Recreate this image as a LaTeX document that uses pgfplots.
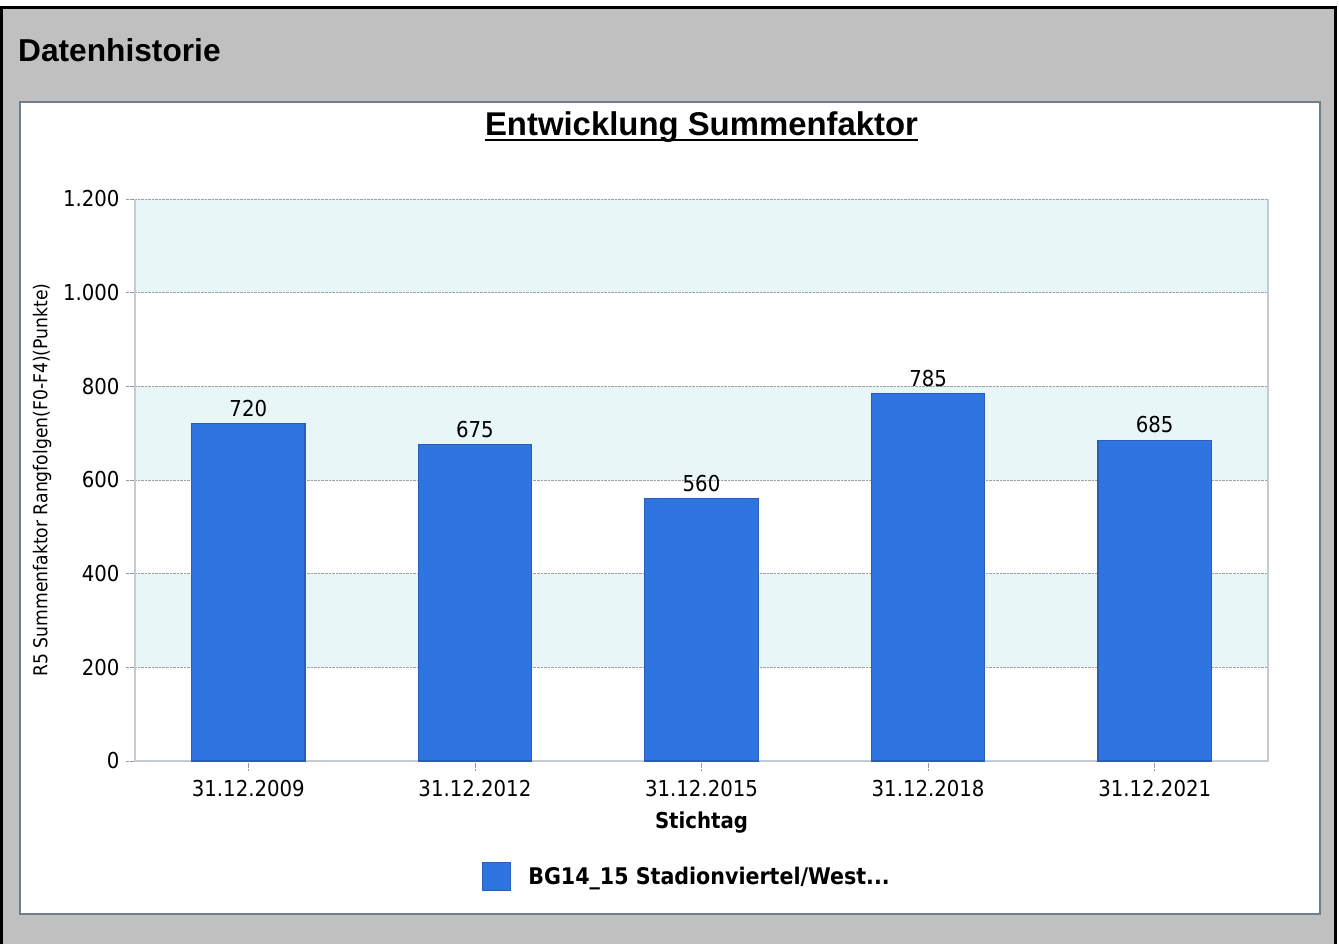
\documentclass[border=0pt]{standalone}
\usepackage{pgfplots}
\pgfplotsset{compat=1.18}
\usepackage{fontspec}
\setmainfont{DejaVu Sans Condensed}
\newfontfamily\arialf{Liberation Sans}
\definecolor{bggray}{RGB}{192,192,192}
\definecolor{panelborder}{RGB}{110,126,140}
\definecolor{band}{RGB}{232,246,248}
\definecolor{barblue}{RGB}{46,117,226}
\definecolor{barborder}{RGB}{42,93,184}
\definecolor{axisgray}{RGB}{197,203,210}
\definecolor{gridgray}{RGB}{150,150,150}
\begin{document}
\begin{tikzpicture}[x=1bp,y=1bp]
\useasboundingbox (0,0) rectangle (1339,944);
\fill[white] (0,0) rectangle (1339,944);
\fill[bggray] (0,0) rectangle (1337,936);
\draw[black,line width=3bp] (1.5,0) -- (1.5,936) -- (1335.5,936) -- (1335.5,0);
\node[anchor=base west,inner sep=0pt,font=\arialf\bfseries\fontsize{31.8}{36}\selectfont] at (18,882) {Datenhistorie};
\fill[white,draw=panelborder,line width=2bp] (20,30) rectangle (1320,842);
\node[anchor=base,inner sep=0pt,font=\arialf\bfseries\fontsize{33}{38}\selectfont] (t) at (701.5,808) {Entwicklung Summenfaktor};
\draw[line width=2.6bp] ([yshift=-4bp]t.base west) -- ([yshift=-4bp]t.base east);
% background bands (0..1200 mapped to 183..745)
\fill[band] (135,651.33) rectangle (1268,745);
\fill[band] (135,464) rectangle (1268,557.67);
\fill[band] (135,276.67) rectangle (1268,370.33);
\begin{axis}[
  at={(135bp,183bp)}, anchor=south west,
  width=1133bp, height=562bp, scale only axis,
  xmin=-0.5, xmax=4.5, ymin=0, ymax=1200,
  xtick=data,
  xticklabels={31.12.2009,31.12.2012,31.12.2015,31.12.2018,31.12.2021},
  ytick={0,200,400,600,800,1000,1200},
  yticklabels={0,200,400,600,800,{1.000},{1.200}},
  xtick pos=bottom, ytick pos=left,
  tick align=outside,
  major tick length=9bp,
  tick style={densely dotted, gridgray, line width=0.8bp},
  ymajorgrids,
  grid style={densely dotted, gridgray!90, line width=0.8bp},
  axis line style={draw=none},
  ticklabel style={font=\fontsize{22}{25}\selectfont, text=black},
  yticklabel style={xshift=-3bp},
  xticklabel style={yshift=-7bp},
  /pgf/number format/assume math mode=true,
  ylabel={R5 Summenfaktor Rangfolgen(F0-F4)(Punkte)},
  xlabel={Stichtag},
  every axis y label/.style={at={(-93bp,281bp)}, rotate=90, anchor=center, font=\fontsize{19.2}{21}\selectfont},
  every axis x label/.style={at={(566.5bp,-62bp)}, anchor=center, font=\bfseries\fontsize{22}{25}\selectfont},
  ybar, bar width=0.5,
  nodes near coords,
  every node near coord/.append style={font=\fontsize{22}{25}\selectfont, text=black, yshift=3bp},
  legend style={at={(0.487,-0.205)}, anchor=center, draw=none, fill=none,
    font=\bfseries\fontsize{23}{26}\selectfont, legend cell align=left},
  legend image code/.code={\fill[barblue, draw=barborder, line width=1bp] (0bp,-14bp) rectangle (28bp,14bp); \path[draw=none,fill=none] (0bp,0bp) -- (44bp,0bp);},
  clip=false,
]
\draw[axisgray, line width=1.6bp] (axis cs:-0.5,1200) -- (axis cs:-0.5,0) -- (axis cs:4.5,0) -- (axis cs:4.5,1200);
\addplot[fill=barblue, draw=barborder, line width=1.2bp] coordinates {(0,720) (1,675) (2,560) (3,785) (4,685)};
\addlegendentry{BG14\_15 Stadionviertel/West...}
\end{axis}
\end{tikzpicture}
\end{document}
